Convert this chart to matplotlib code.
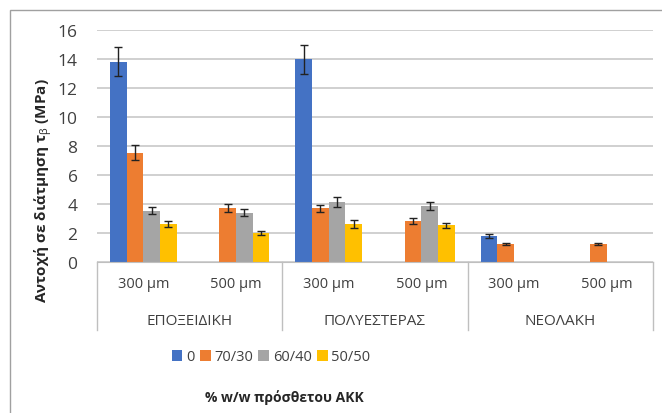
import numpy as np
import matplotlib.pyplot as plt
from matplotlib.patches import Rectangle

plt.rcParams['font.family'] = ['Open Sans', 'DejaVu Sans']
plt.rcParams['mathtext.fontset'] = 'custom'
plt.rcParams['mathtext.rm'] = 'Open Sans'
plt.rcParams['mathtext.it'] = 'Open Sans'
plt.rcParams['mathtext.bf'] = 'Open Sans:bold'

# data
sizes = ['300 μm', '500 μm', '300 μm', '500 μm', '300 μm', '500 μm']
resins = ['ΕΠΟΞΕΙΔΙΚΗ', 'ΠΟΛΥΕΣΤΕΡΑΣ', 'ΝΕΟΛΑΚΗ']
series = ['0', '70/30', '60/40', '50/50']
nan = np.nan
v0 = [13.8, nan, 14.0, nan, 1.8, nan]
v70 = [7.55, 3.7, 3.7, 2.85, 1.24, 1.24]
v60 = [3.55, 3.4, 4.15, 3.86, nan, nan]
v50 = [2.6, 2.0, 2.62, 2.53, nan, nan]
e0 = [1.0, nan, 1.0, nan, 0.12, nan]
e70 = [0.5, 0.28, 0.25, 0.2, 0.08, 0.08]
e60 = [0.25, 0.25, 0.35, 0.3, nan, nan]
e50 = [0.2, 0.15, 0.25, 0.18, nan, nan]
colors = ['#4472C4', '#ED7D31', '#A5A5A5', '#FFC000']

fig = plt.figure(figsize=(6.62, 4.14), dpi=100)
ax = fig.add_axes([97/662, 1-263/414, (653-97)/662, 232/414])

# outer chart frame
fig.patches.append(Rectangle((10/662, -0.1), 1.0, 1-11/414+0.1, transform=fig.transFigure,
                             fill=False, edgecolor='#A0A0A0', linewidth=1))

x = np.arange(len(sizes))
w = 0.18
vals = [v0, v70, v60, v50]
errs = [e0, e70, e60, e50]
for i in range(4):
    ax.bar(x + (i-1.5)*w, vals[i], w, color=colors[i], label=series[i], zorder=2,
           yerr=errs[i], capsize=3, error_kw=dict(ecolor='#222222', elinewidth=1, capthick=1))

ax.set_ylim(0, 16)
ax.set_yticks(range(0, 17, 2))
ax.set_xlim(-0.5, 5.5)
ax.grid(axis='y', color='#C8C8C8', linewidth=1.2, zorder=0)
for s in ['top', 'right', 'left']:
    ax.spines[s].set_visible(False)
ax.spines['bottom'].set_color('#BFBFBF')
ax.tick_params(axis='y', length=0, labelsize=12.5, colors='#404040', pad=14)
ax.tick_params(axis='x', length=0, labelsize=10.5, colors='#404040', pad=10)
ax.set_xticks(x)
ax.set_xticklabels(sizes)

# second level category labels and separators
trans = ax.get_xaxis_transform()
for xs in [-0.5, 1.5, 3.5, 5.5]:
    ax.plot([xs, xs], [0, -68/232], color='#BFBFBF', linewidth=1, transform=trans, clip_on=False)
for j, r in enumerate(resins):
    ax.text(2*j + 0.5, -59/232, r, transform=trans, ha='center', va='center',
            fontsize=11, color='#404040')

fig.legend(loc='center', bbox_to_anchor=(271/662, 1-358/414), ncol=4, frameon=False,
           fontsize=10.5, handlelength=0.75, handleheight=0.75, handletextpad=0.25,
           columnspacing=0.35, labelcolor='#404040')

fig.text(43/662, 1-191/414, 'Αντοχή σε διάτμηση τ$_β$ (MPa)', rotation=90, ha='center',
         va='center', fontsize=11, fontweight='bold', color='#262626')
fig.text(284/662, 1-398/414, '% w/w πρόσθετου ΑΚΚ', ha='center', va='center',
         fontsize=10, fontweight='bold', color='#262626')

fig.savefig('out.png', dpi=100)
